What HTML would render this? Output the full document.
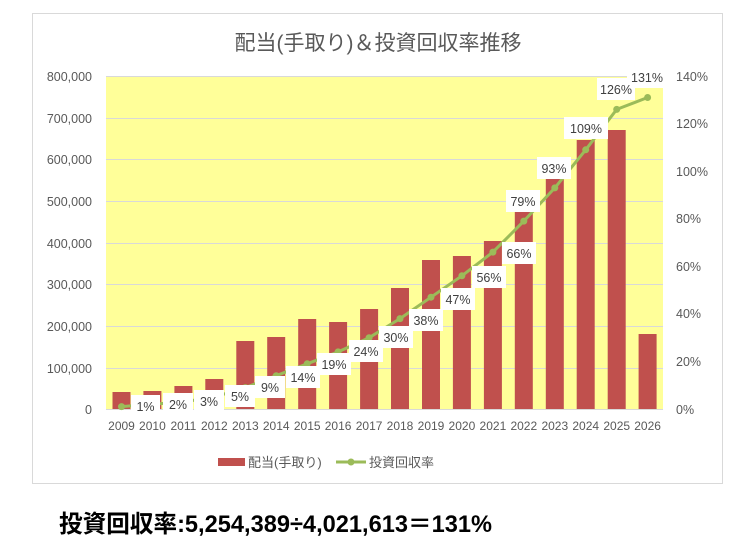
<!DOCTYPE html>
<html><head><meta charset="utf-8"><style>
html,body{margin:0;padding:0;background:#fff;}
svg{display:block;}
</style></head><body>
<svg width="739" height="539" viewBox="0 0 739 539" xmlns="http://www.w3.org/2000/svg" font-family="'Liberation Sans','Noto Sans CJK JP',sans-serif">
<rect x="32.5" y="13.5" width="690" height="470" fill="#fff" stroke="#d9d9d9"/>
<text x="378" y="50" text-anchor="middle" font-size="21" fill="#595959">配当(手取り)＆投資回収率推移</text>
<rect x="106" y="76" width="557" height="333" fill="#ffff99"/>
<g stroke="#d9d9d9" stroke-width="1">
<line x1="106" x2="663" y1="76.5" y2="76.5"/><line x1="106" x2="663" y1="118.5" y2="118.5"/>
<line x1="106" x2="663" y1="159.5" y2="159.5"/><line x1="106" x2="663" y1="201.5" y2="201.5"/>
<line x1="106" x2="663" y1="243.5" y2="243.5"/><line x1="106" x2="663" y1="284.5" y2="284.5"/>
<line x1="106" x2="663" y1="326.5" y2="326.5"/><line x1="106" x2="663" y1="368.5" y2="368.5"/>
<line x1="106" x2="663" y1="409.5" y2="409.5"/>
</g>
<g font-size="12.5" fill="#595959" text-anchor="end">
<text x="92" y="81">800,000</text><text x="92" y="123">700,000</text><text x="92" y="164">600,000</text>
<text x="92" y="206">500,000</text><text x="92" y="248">400,000</text><text x="92" y="289">300,000</text>
<text x="92" y="331">200,000</text><text x="92" y="373">100,000</text><text x="92" y="414">0</text>
</g>
<g font-size="12.5" fill="#595959" text-anchor="start">
<text x="676" y="81">140%</text><text x="676" y="128">120%</text><text x="676" y="176">100%</text>
<text x="676" y="223">80%</text><text x="676" y="271">60%</text><text x="676" y="318">40%</text>
<text x="676" y="366">20%</text><text x="676" y="414">0%</text>
</g>
<g fill="#c0504d">
<rect x="112.5" y="392" width="18" height="17"/>
<rect x="143.4" y="391" width="18" height="18"/>
<rect x="174.4" y="386" width="18" height="23"/>
<rect x="205.3" y="379" width="18" height="30"/>
<rect x="236.3" y="341" width="18" height="68"/>
<rect x="267.2" y="337" width="18" height="72"/>
<rect x="298.2" y="319" width="18" height="90"/>
<rect x="329.1" y="322" width="18" height="87"/>
<rect x="360.1" y="309" width="18" height="100"/>
<rect x="391.0" y="288" width="18" height="121"/>
<rect x="422.0" y="260" width="18" height="149"/>
<rect x="452.9" y="256" width="18" height="153"/>
<rect x="483.9" y="241" width="18" height="168"/>
<rect x="514.8" y="210" width="18" height="199"/>
<rect x="545.8" y="178" width="18" height="231"/>
<rect x="576.7" y="140" width="18" height="269"/>
<rect x="607.7" y="130" width="18" height="279"/>
<rect x="638.6" y="334" width="18" height="75"/>
</g>
<polyline fill="none" stroke="#9bbb59" stroke-width="3" stroke-linejoin="round" points="121.5,406.6 152.4,404.2 183.4,401.9 214.3,397.1 245.3,387.6 276.2,375.7 307.2,363.8 338.1,351.9 369.1,337.7 400,318.6 431,297.2 461.9,275.8 492.9,252.1 523.8,221.1 554.8,187.9 585.7,149.8 616.7,109.4 647.6,97.5"/>
<g fill="#9bbb59">
<circle cx="121.5" cy="406.6" r="3.5"/><circle cx="152.4" cy="404.2" r="3.5"/><circle cx="183.4" cy="401.9" r="3.5"/>
<circle cx="214.3" cy="397.1" r="3.5"/><circle cx="245.3" cy="387.6" r="3.5"/><circle cx="276.2" cy="375.7" r="3.5"/>
<circle cx="307.2" cy="363.8" r="3.5"/><circle cx="338.1" cy="351.9" r="3.5"/><circle cx="369.1" cy="337.7" r="3.5"/>
<circle cx="400" cy="318.6" r="3.5"/><circle cx="431" cy="297.2" r="3.5"/><circle cx="461.9" cy="275.8" r="3.5"/>
<circle cx="492.9" cy="252.1" r="3.5"/><circle cx="523.8" cy="221.1" r="3.5"/><circle cx="554.8" cy="187.9" r="3.5"/>
<circle cx="585.7" cy="149.8" r="3.5"/><circle cx="616.7" cy="109.4" r="3.5"/><circle cx="647.6" cy="97.5" r="3.5"/>
</g>
<g fill="#fff">
<rect x="131" y="395" width="29" height="22"/><rect x="163" y="393" width="30" height="22"/>
<rect x="194" y="390" width="30" height="22"/><rect x="225" y="385" width="30" height="22"/>
<rect x="255" y="376" width="30" height="22"/><rect x="286" y="366" width="34" height="22"/>
<rect x="317" y="353" width="34" height="22"/><rect x="349" y="340" width="34" height="22"/>
<rect x="379" y="326" width="34" height="22"/><rect x="409" y="309" width="34" height="22"/>
<rect x="441" y="288" width="34" height="22"/><rect x="472" y="266" width="34" height="22"/>
<rect x="502" y="242" width="34" height="22"/><rect x="506" y="190" width="34" height="22"/>
<rect x="537" y="157" width="34" height="22"/><rect x="564" y="117" width="44" height="22"/>
<rect x="597" y="78" width="38" height="22"/><rect x="627" y="66" width="40" height="22"/>
</g>
<g font-size="12.5" fill="#404040" text-anchor="middle">
<text x="145.5" y="411">1%</text><text x="178" y="409">2%</text><text x="209" y="406">3%</text>
<text x="240" y="401">5%</text><text x="270" y="392">9%</text><text x="303" y="382">14%</text>
<text x="334" y="369">19%</text><text x="366" y="356">24%</text><text x="396" y="342">30%</text>
<text x="426" y="325">38%</text><text x="458" y="304">47%</text><text x="489" y="282">56%</text>
<text x="519" y="258">66%</text><text x="523" y="206">79%</text><text x="554" y="173">93%</text>
<text x="586" y="133">109%</text><text x="616" y="94">126%</text><text x="647" y="82">131%</text>
</g>
<g font-size="12" fill="#595959" text-anchor="middle">
<text x="121.5" y="430">2009</text><text x="152.4" y="430">2010</text><text x="183.4" y="430">2011</text>
<text x="214.3" y="430">2012</text><text x="245.3" y="430">2013</text><text x="276.2" y="430">2014</text>
<text x="307.2" y="430">2015</text><text x="338.1" y="430">2016</text><text x="369.1" y="430">2017</text>
<text x="400" y="430">2018</text><text x="431" y="430">2019</text><text x="461.9" y="430">2020</text>
<text x="492.9" y="430">2021</text><text x="523.8" y="430">2022</text><text x="554.8" y="430">2023</text>
<text x="585.7" y="430">2024</text><text x="616.7" y="430">2025</text><text x="647.6" y="430">2026</text>
</g>
<rect x="218" y="458" width="27" height="8" fill="#c0504d"/>
<text x="248" y="467" font-size="13" fill="#595959">配当(手取り)</text>
<line x1="336" y1="462" x2="366" y2="462" stroke="#9bbb59" stroke-width="3"/>
<circle cx="351" cy="462" r="3.5" fill="#9bbb59"/>
<text x="369" y="467" font-size="13" fill="#595959">投資回収率</text>
<text x="59" y="532" font-size="24" font-weight="bold" fill="#000" textLength="433" lengthAdjust="spacingAndGlyphs">投資回収率:5,254,389÷4,021,613＝131%</text>
</svg>
</body></html>
